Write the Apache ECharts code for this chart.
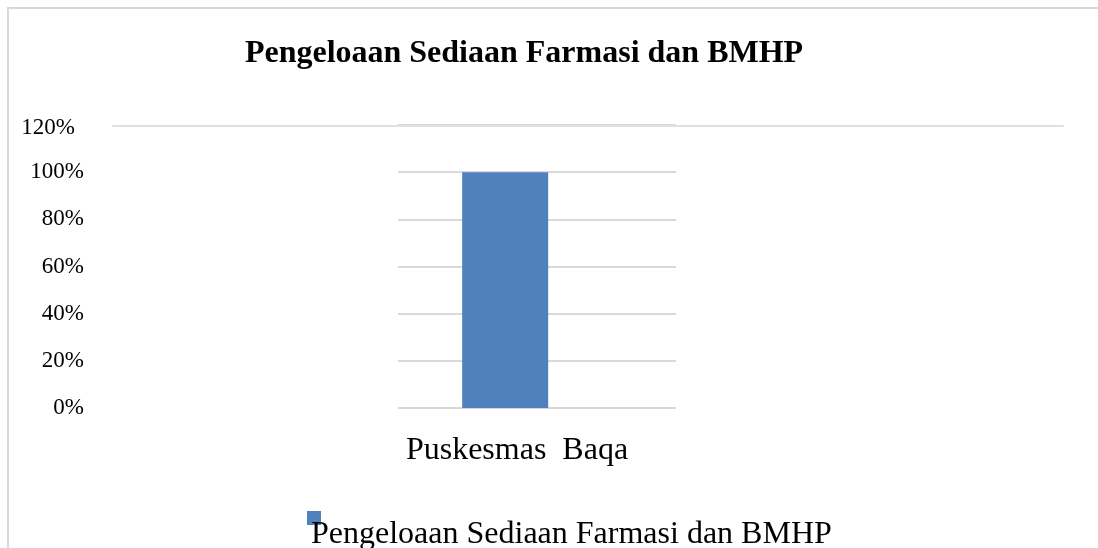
<!DOCTYPE html>
<html>
<head>
    <meta charset="utf-8">
    <title>Pengeloaan Sediaan Farmasi dan BMHP</title>
    <script src="https://cdn.jsdelivr.net/npm/echarts@6/dist/echarts.min.js"></script>
    <style>
        body { margin: 0; background: #fff; }
        #frame { position: absolute; left: 7px; top: 7px; width: 1200px; height: 700px; border: 2px solid #d9d9d9; }
        #main { position: absolute; left: 0; top: 0; width: 1098px; height: 548px; }
    </style>
</head>
<body>
<div id="frame"></div>
<div id="main"></div>
<script type="text/javascript">
    // data
    var categories = ['Puskesmas  Baqa'];
    var seriesName = 'Pengeloaan Sediaan Farmasi dan BMHP';
    var values = [100];
    var yTicks = [0, 20, 40, 60, 80, 100, 120];

    var font = 'Liberation Serif';
    var barColor = '#4f81bd';
    var myChart = echarts.init(document.getElementById('main'));

    var option = {
        animation: false,
        title: {
            text: 'Pengeloaan Sediaan Farmasi dan BMHP',
            left: 519,
            textAlign: 'center',
            top: 33,
            textStyle: { fontFamily: font, fontWeight: 'bold', fontSize: 32, color: '#000' }
        },
        legend: {
            data: [seriesName],
            left: 302,
            top: 497,
            icon: 'none',
            itemWidth: 0,
            itemHeight: 14,
            formatter: function (name) {
                return '{box|}{txt|' + name + '}';
            },
            textStyle: {
                fontFamily: font, fontSize: 32, color: '#000', padding: [0, 0, 0, -5],
                rich: {
                    box: { width: 14, height: 14, backgroundColor: barColor, verticalAlign: 'top' },
                    txt: { fontFamily: font, fontSize: 32, color: '#000', lineHeight: 40, verticalAlign: 'bottom', padding: [0, 0, 0, -10] }
                }
            }
        },
        grid: [
            { left: 398, right: 422, top: 125, bottom: 140 },
            { left: 113, right: 35, top: 125, height: 1 }
        ],
        xAxis: [
            {
                type: 'category',
                gridIndex: 0,
                data: categories,
                axisLine: { show: false },
                axisTick: { show: false },
                axisLabel: {
                    fontFamily: font, fontSize: 32, color: '#000', margin: 27,
                    padding: [0, 40, 0, 0]
                }
            },
            {
                type: 'value',
                gridIndex: 1,
                position: 'top',
                axisLine: { show: true, lineStyle: { color: '#e0e0e0', width: 2 } },
                axisTick: { show: false },
                axisLabel: { show: false },
                splitLine: { show: false }
            }
        ],
        yAxis: [
            {
                type: 'value',
                gridIndex: 0,
                min: yTicks[0],
                max: yTicks[yTicks.length - 1],
                interval: 20,
                axisLine: { show: false },
                axisTick: { show: false },
                splitLine: { lineStyle: { color: '#d9d9d9', width: 2 } },
                axisLabel: {
                    fontFamily: font, fontSize: 23, color: '#000', margin: 314,
                    formatter: function (v) {
                        return v === 120 ? '{a|' + v + '%}' : v + '%';
                    },
                    rich: { a: { fontFamily: font, fontSize: 23, color: '#000', padding: [6, 9, 0, 0] } }
                }
            },
            {
                type: 'value',
                gridIndex: 1,
                show: false
            }
        ],
        series: [
            {
                name: seriesName,
                type: 'bar',
                xAxisIndex: 0,
                yAxisIndex: 0,
                barWidth: 86,
                barGap: '-26%',
                itemStyle: { color: barColor },
                data: values
            },
            {
                // empty placeholder so the bar sits left of the category centre
                name: 'spacer',
                type: 'bar',
                xAxisIndex: 0,
                yAxisIndex: 0,
                barWidth: 86,
                data: [null]
            }
        ]
    };

    myChart.setOption(option);
</script>
</body>
</html>
